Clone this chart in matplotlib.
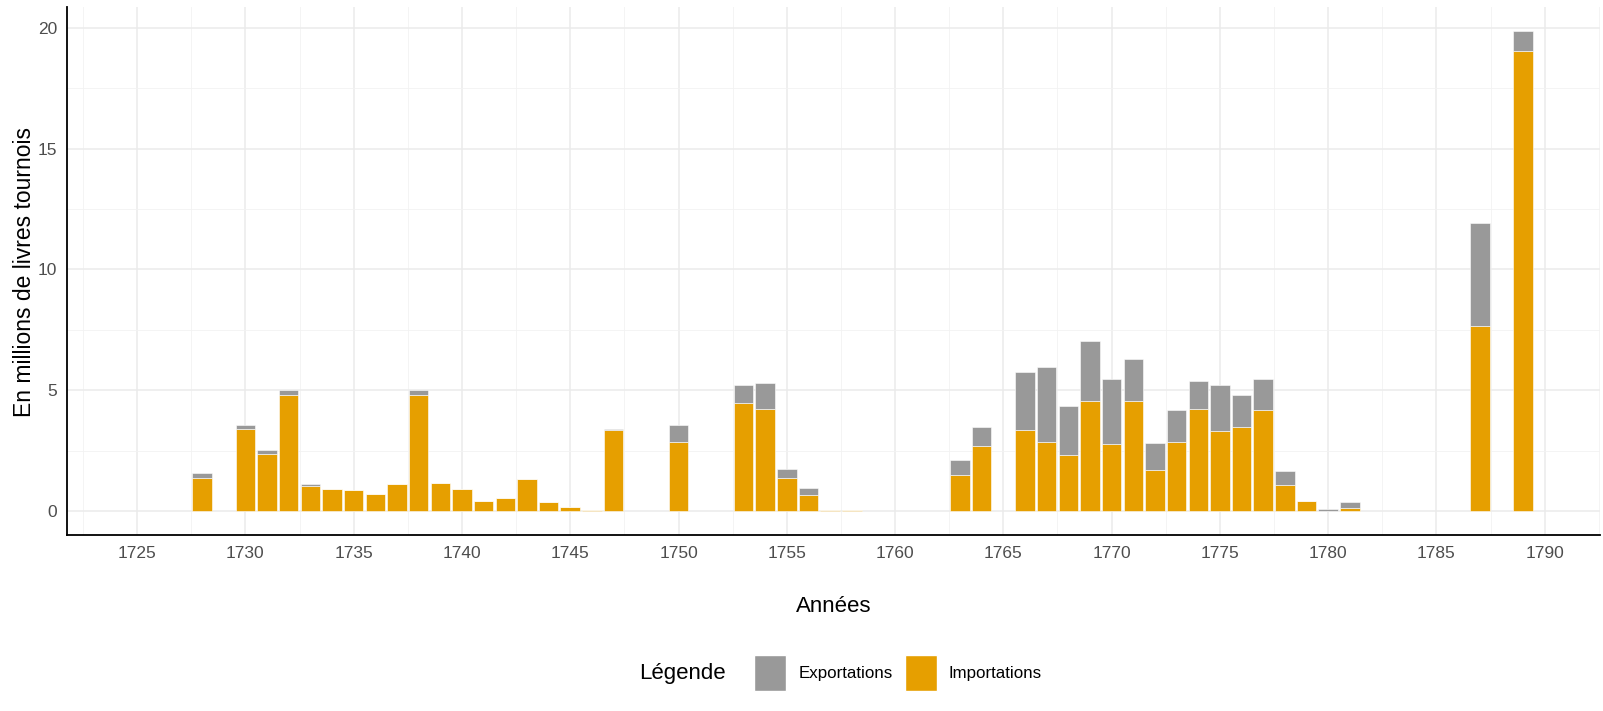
import matplotlib
matplotlib.use("Agg")
import matplotlib.pyplot as plt
from matplotlib.ticker import MultipleLocator
from matplotlib.patches import Patch

plt.rcParams['font.family'] = ['Liberation Sans', 'DejaVu Sans']

years = [1728, 1730, 1731, 1732, 1733, 1734, 1735, 1736, 1737, 1738, 1739, 1740,
         1741, 1742, 1743, 1744, 1745, 1746, 1747, 1750, 1753, 1754, 1755, 1756,
         1757, 1758, 1763, 1764, 1766, 1767, 1768, 1769, 1770, 1771, 1772, 1773,
         1774, 1775, 1776, 1777, 1778, 1779, 1780, 1781, 1787, 1789]

importations = [1.35, 3.40, 2.37, 4.82, 1.02, 0.91, 0.87, 0.70, 1.14, 4.79, 1.18, 0.91,
                0.41, 0.55, 1.31, 0.37, 0.18, 0.05, 3.36, 2.87, 4.46, 4.24, 1.35, 0.66,
                0.05, 0.05, 1.49, 2.70, 3.36, 2.87, 2.34, 4.55, 2.78, 4.55, 1.72, 2.87,
                4.24, 3.31, 3.47, 4.17, 1.07, 0.40, 0.00, 0.13, 7.67, 19.05]

exportations = [0.21, 0.15, 0.14, 0.21, 0.08, 0.0, 0.0, 0.0, 0.0, 0.24, 0.0, 0.0,
                0.0, 0.0, 0.0, 0.0, 0.0, 0.0, 0.02, 0.68, 0.77, 1.04, 0.41, 0.29,
                0.0, 0.0, 0.63, 0.77, 2.40, 3.09, 1.99, 2.47, 2.69, 1.74, 1.10, 1.30,
                1.15, 1.91, 1.35, 1.30, 0.57, 0.02, 0.09, 0.23, 4.26, 0.82]

c_imp = '#E69F00'
c_exp = '#999999'

W, H = 1603, 711
fig = plt.figure(figsize=(W / 100, H / 100), dpi=100)
l, r, t, b = 66.7, 1600, 7, 535
ax = fig.add_axes([l / W, (H - b) / H, (r - l) / W, (b - t) / H])

ax.bar(years, importations, width=0.9, color=c_imp, edgecolor='white', linewidth=0.4, zorder=3)
ax.bar(years, exportations, width=0.9, bottom=importations, color=c_exp,
       edgecolor='white', linewidth=0.4, zorder=3)

ax.set_xlim(1721.75, 1792.55)
ax.set_ylim(-0.99, 20.86)
ax.xaxis.set_major_locator(MultipleLocator(5))
ax.xaxis.set_minor_locator(MultipleLocator(2.5))
ax.yaxis.set_major_locator(MultipleLocator(5))
ax.yaxis.set_minor_locator(MultipleLocator(2.5))
ax.grid(True, which='major', color='#EBEBEB', linewidth=1.1, zorder=0)
ax.grid(True, which='minor', color='#F2F2F2', linewidth=0.6, zorder=0)
ax.set_axisbelow(True)

for s in ['top', 'right']:
    ax.spines[s].set_visible(False)
for s in ['left', 'bottom']:
    ax.spines[s].set_color('black')
    ax.spines[s].set_linewidth(1.3)

ax.tick_params(which='both', length=0)
ax.tick_params(axis='x', pad=8, labelsize=12.5, labelcolor='#4D4D4D')
ax.tick_params(axis='y', pad=7, labelsize=12.5, labelcolor='#4D4D4D')

fig.text(25 / W, 1 - 272 / H, 'En millions de livres tournois', rotation=90,
         ha='center', va='center', fontsize=16.5, color='black')
fig.text(((l + r) / 2) / W, 1 - 606 / H, 'Années', ha='center', va='center',
         fontsize=16, color='black')

fig.text(639 / W, 1 - 673 / H, 'Légende', ha='left', va='center', fontsize=16, color='black')
handles = [Patch(facecolor=c_exp, edgecolor='white', label='Exportations'),
           Patch(facecolor=c_imp, edgecolor='white', label='Importations')]
fig.legend(handles=handles, ncol=2, loc='center', bbox_to_anchor=(898 / W, 1 - 673 / H),
           frameon=False, fontsize=12.2, handlelength=1.9, handleheight=2.83,
           handletextpad=0.71, columnspacing=0.71, borderpad=0, borderaxespad=0)

fig.savefig('out.png', dpi=100)
